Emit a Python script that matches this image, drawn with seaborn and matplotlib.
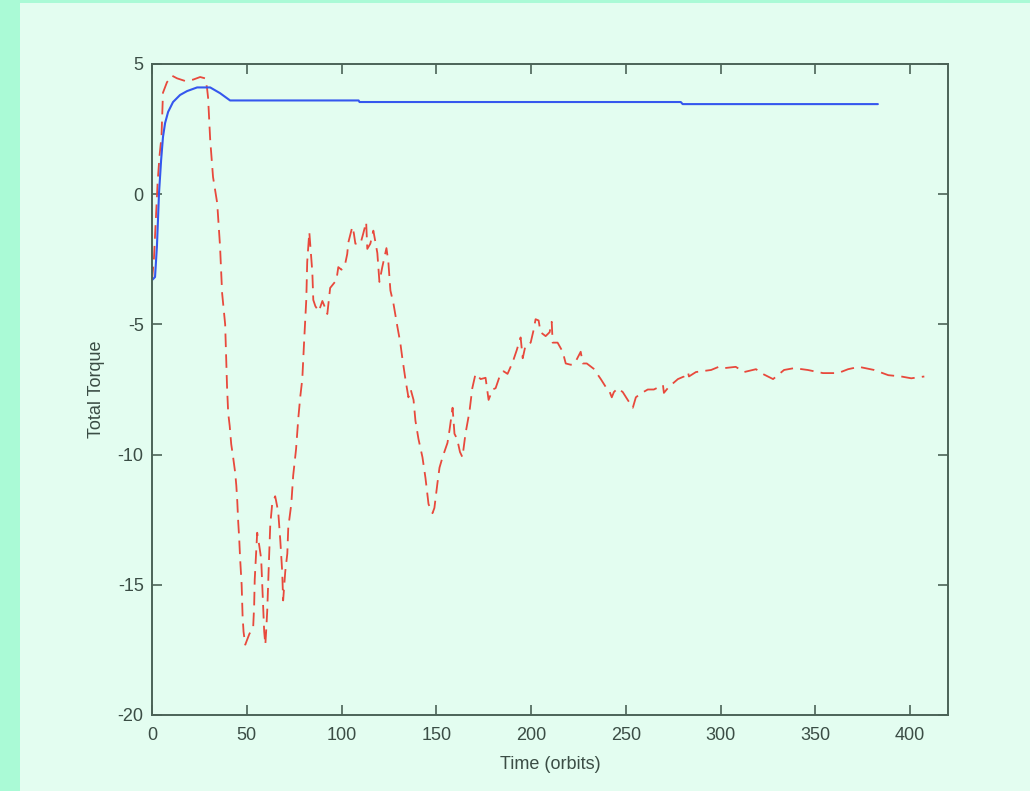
import numpy as np
import pandas as pd
import matplotlib
matplotlib.use("Agg")
import matplotlib.pyplot as plt
from matplotlib.patches import Rectangle
import seaborn as sns

# ---- data ----
t_blue = [0, 1.6, 2.6, 3.2, 3.7, 4.8, 5.8, 6.9, 8.5, 11.1, 14.8, 18.5, 23.8, 30.7,
          35.9, 41.2, 43, 109, 109.5, 279, 280, 383]
torque_blue = [-3.3, -3.18, -2.0, -0.9, 0.04, 1.3, 2.2, 2.73, 3.16, 3.54, 3.81, 3.96, 4.1, 4.1,
               3.88, 3.6, 3.6, 3.6, 3.54, 3.54, 3.46, 3.46]

t_red = [0, 1, 2, 3, 4, 5, 5.8, 7.9, 10.6, 13.2, 17.4, 21.7, 25.4, 28, 29, 29.6, 30.7,
         32.2, 34.4, 35.9, 37, 38.6, 39.6, 40.2, 41, 41.8, 42.8, 43.9, 44.5, 45, 45.5,
         46, 46.5, 47.3, 47.8, 48.3, 49.2, 51.3, 53.4, 53.9, 54.2, 55, 55.5, 56.6, 57.6,
         58.1, 58.7, 59.2, 59.8, 60.3, 60.8, 61.3, 61.8, 62.4, 63.4, 65, 66.6, 67.7,
         68.7, 69.2, 70.3, 71.4, 71.9, 73.5, 74.5, 76, 77.2, 78.2, 79.3, 80.3, 81.4,
         81.9, 83, 84.6, 85.1, 86.2, 88, 89.9, 91, 92.5, 94, 97.3, 98.3, 100, 102, 103,
         103.6, 105.7, 106.5, 107.3, 110, 111.5, 113, 113.6, 115.2, 116.8, 118.9, 120,
         121.5, 123.7, 124.7, 125.8, 127.4, 129.5, 131, 132, 133.7, 135.3, 136.5, 138,
         139, 140.6, 142.7, 144.3, 145.9, 148, 149, 150.6, 151.7, 153.3, 155.9, 157,
         158.6, 159.6, 161, 162.5, 163.8, 165.4, 167.5, 169, 170.7, 173.4, 176, 177.6,
         179.7, 181.3, 183.4, 185.5, 187.6, 190.3, 192.4, 194.5, 195.6, 197.1, 199.8,
         201.4, 202.4, 204, 205, 207.7, 209.8, 210.9, 211.4, 214, 216.7, 218.3, 221,
         223, 226.2, 227.3, 229.4, 233, 236.8, 239.4, 241, 242.6, 243.7, 245.8, 248.4,
         251, 253.7, 255.3, 258, 261.6, 264.8, 269.6, 270.1, 272.7, 277.5, 280.7,
         282.8, 283.3, 287, 295, 299, 301.8, 308, 312.4, 318.7, 321.4, 327.7, 333.5,
         338.8, 346, 354, 362, 367.3, 373, 381, 388.5, 395.3, 400.6, 407.5]
torque_red = [-3.3, -2.5, -1.0, 0.5, 1.5, 2.2, 3.9, 4.3, 4.55, 4.45, 4.35, 4.4, 4.5, 4.45,
              4.1, 3.7, 2.1, 0.66, -0.34, -2.0, -3.8, -5.0, -7.4, -8.4, -8.9, -9.6, -10.1,
              -10.7, -11.2, -11.8, -12.6, -13.2, -14.0, -15.0, -16.2, -16.8, -17.3, -16.9,
              -16.6, -15.8, -14.8, -13.7, -13.0, -13.5, -14.0, -14.9, -15.9, -16.8, -17.3,
              -16.7, -16.0, -14.9, -13.9, -12.7, -11.9, -11.6, -12.2, -13.3, -14.5, -15.6,
              -14.5, -13.8, -12.8, -11.9, -10.8, -9.8, -8.6, -7.8, -7.1, -5.6, -4.06, -2.6,
              -1.45, -3.0, -4.06, -4.3, -4.5, -4.1, -4.3, -4.6, -3.6, -3.3, -2.8, -2.9,
              -2.65, -2.3, -1.85, -1.25, -1.5, -1.9, -1.9, -1.5, -1.07, -2.1, -1.9, -1.4,
              -2.26, -3.37, -2.8, -2.07, -2.6, -3.7, -4.2, -5.1, -5.7, -6.25, -7.1, -7.8,
              -7.5, -7.9, -8.7, -9.4, -10.1, -10.9, -11.9, -12.25, -12.05, -11.1, -10.5,
              -10.1, -9.55, -9.05, -8.2, -9.2, -9.4, -9.9, -10.1, -9.2, -8.35, -7.45, -6.9,
              -7.1, -7.05, -7.9, -7.5, -7.45, -7.0, -6.8, -6.9, -6.45, -6.0, -5.5, -6.3,
              -5.8, -5.7, -5.2, -4.8, -4.85, -5.3, -5.45, -5.3, -4.9, -5.7, -5.7, -6.05,
              -6.5, -6.55, -6.5, -6.05, -6.5, -6.5, -6.7, -7.1, -7.4, -7.5, -7.8, -7.6,
              -7.45, -7.6, -7.9, -8.2, -7.8, -7.65, -7.5, -7.5, -7.33, -7.63, -7.4, -7.1,
              -7.0, -6.83, -7.0, -6.83, -6.75, -6.63, -6.68, -6.63, -6.83, -6.72, -6.87,
              -7.1, -6.75, -6.68, -6.75, -6.87, -6.87, -6.72, -6.63, -6.75, -6.95, -7.0,
              -7.07, -7.0]

x_ticks = [0, 50, 100, 150, 200, 250, 300, 350, 400]
y_ticks = [-20, -15, -10, -5, 0, 5]

# ---- style ----
outer_bg = "#aafad6"
inner_bg = "#e3fdf0"
axis_col = "#4b6357"
text_col = "#3b4d45"
red = "#e8493c"
blue = "#3557ee"

sns.set_theme(style="ticks")
plt.rcParams["font.family"] = ["Liberation Sans", "DejaVu Sans"]

fig = plt.figure(figsize=(10.3, 7.91), dpi=100, facecolor=inner_bg)
# outer mint strips (left and top)
fig.patches.append(Rectangle((0, 0), 20 / 1030, 1, transform=fig.transFigure,
                             facecolor=outer_bg, edgecolor="none", zorder=-5))
fig.patches.append(Rectangle((0, 1 - 3 / 791), 1, 3 / 791, transform=fig.transFigure,
                             facecolor=outer_bg, edgecolor="none", zorder=-5))

ax = fig.add_axes([152 / 1030, 1 - 715 / 791, (948 - 152) / 1030, (715 - 64) / 791])
ax.set_facecolor(inner_bg)

df_red = pd.DataFrame({"t": t_red, "torque": torque_red})
df_blue = pd.DataFrame({"t": t_blue, "torque": torque_blue})

sns.lineplot(data=df_red, x="t", y="torque", ax=ax, color=red, linewidth=1.3,
             linestyle=(0, (7.5, 4)), estimator=None, errorbar=None, sort=False)
sns.lineplot(data=df_blue, x="t", y="torque", ax=ax, color=blue, linewidth=1.5,
             estimator=None, errorbar=None, sort=False)

ax.set_xlim(0, 420)
ax.set_ylim(-20, 5)
ax.set_xticks(x_ticks)
ax.set_yticks(y_ticks)
ax.set_xticklabels([str(v) for v in x_ticks])
ax.set_yticklabels([str(v) for v in y_ticks])

for s in ax.spines.values():
    s.set_visible(True)
    s.set_color(axis_col)
    s.set_linewidth(1.4)

ax.tick_params(direction="in", length=7, width=1.2, color=axis_col,
               top=True, right=True, labelsize=13, labelcolor=text_col)
ax.tick_params(axis="x", pad=9)
ax.tick_params(axis="y", pad=6)

ax.set_xlabel("Time (orbits)", fontsize=13, color=text_col, labelpad=8)
ax.set_ylabel("Total Torque", fontsize=13, color=text_col, labelpad=9)

fig.savefig("out.png", dpi=100, facecolor=fig.get_facecolor())
